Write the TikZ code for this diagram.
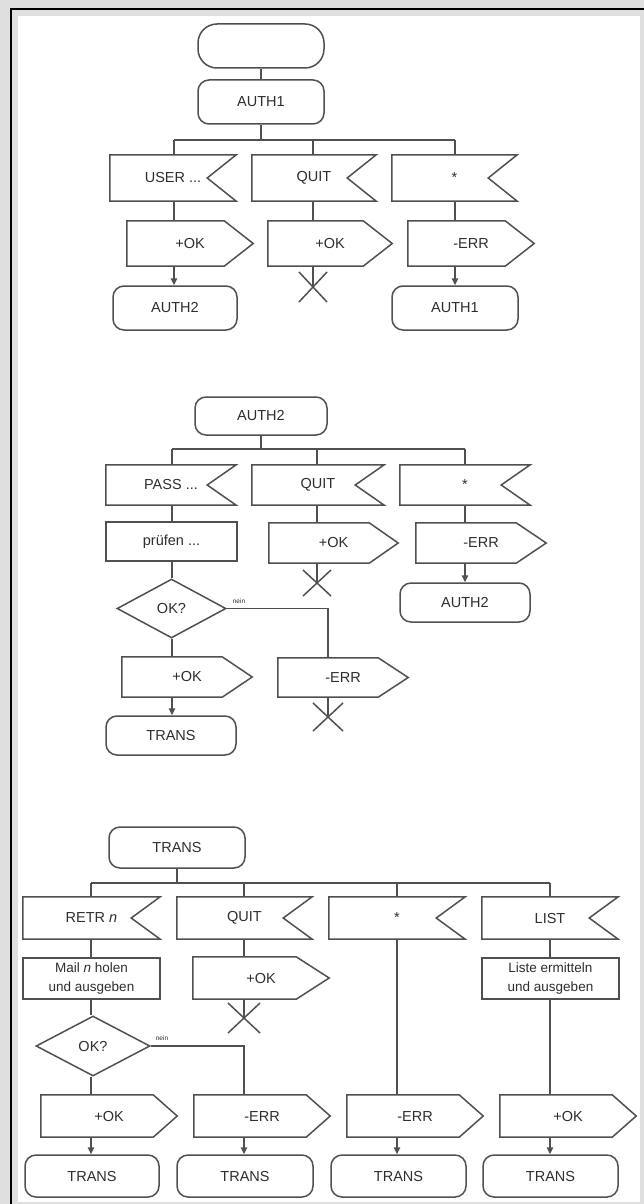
\documentclass[tikz,border=0pt]{standalone}
\usepackage{fontspec}
\setmainfont{Liberation Sans}
\usetikzlibrary{shapes.geometric,arrows.meta}

\definecolor{framegray}{HTML}{DFDFDF}
\definecolor{ink}{HTML}{505050}
\definecolor{txt}{HTML}{2E2E2E}

\tikzset{
  flow/.style={draw=ink, line width=1.5pt},
  tag/.style={font=\fontsize{14.5}{17}\selectfont, text=txt, inner sep=0pt},
  holder/.style={tag, rectangle, draw=none},
  term/.style={tag, flow, rectangle, rounded corners=11pt},
  pill/.style={tag, flow, rectangle, rounded corners=19pt},
  proc/.style={tag, flow, rectangle, align=center},
  smallproc/.style={proc, font=\fontsize{13.5}{18.5}\selectfont},
  cond/.style={tag, flow, diamond},
  arr/.style={flow, -{Triangle[length=7pt,width=6.5pt]}},
  neinlbl/.style={font=\fontsize{6.5}{7}\selectfont, text=txt, inner sep=0pt},
}

% a node given by its left, right, top and bottom edges
\newcommand\placebox[7]{%
  \pgfmathsetmacro\bw{#4-#3}\pgfmathsetmacro\bh{#6-#5}%
  \pgfmathsetmacro\bx{(#3+#4)/2}\pgfmathsetmacro\by{(#5+#6)/2}%
  \node[#1, minimum width=\bw pt, minimum height=\bh pt] (#2) at (\bx,\by) {#7};}

% input symbol: rectangle with a notch on the right
\newcommand\recvbox[6]{%
  \placebox{holder}{#1}{#2}{#3}{#4}{#5}{#6}%
  \draw[flow] (#1.north west) -- (#1.north east) -- ([xshift=-29pt]#1.east)
    -- (#1.south east) -- (#1.south west) -- cycle;}

% output symbol: rectangle with a point on the right (#7 = point depth)
\newcommand\sendbox[7]{%
  \placebox{holder}{#1}{#2}{#3}{#4}{#5}{#6}%
  \draw[flow] (#1.north west) -- ([xshift=-#7pt]#1.north east) -- (#1.east)
    -- ([xshift=-#7pt]#1.south east) -- (#1.south west) -- cycle;}

% stop cross
\newcommand\stopcross[5]{%
  \coordinate (#1) at (#2,#3);
  \draw[flow] ([shift={(-#4,-#5)}]#1) -- ([shift={(#4,#5)}]#1)
              ([shift={(-#4,#5)}]#1) -- ([shift={(#4,-#5)}]#1);}

\begin{document}
\begin{tikzpicture}[x=1pt, y=-1pt]
\useasboundingbox (0,0) rectangle (644,1204);
\fill[framegray] (0,0) rectangle (644,1204);
\fill[white] (18,16) rectangle (640,1202);
\draw[black, line width=2pt] (11,1204) -- (11,9) -- (644,9);

% ---------------- state AUTH1 ----------------
\placebox{pill}{s0}{198}{324}{24}{68}{}
\placebox{term}{a1}{198}{324}{80}{124}{AUTH1}
\recvbox{e11}{110}{236}{155}{201}{USER ...}
\recvbox{e12}{252}{376}{155}{201}{QUIT}
\recvbox{e13}{392}{517}{155}{201}{*}
\sendbox{o11}{127}{253}{221}{266}{+OK}{29}
\sendbox{o12}{268}{392}{221}{266}{+OK}{29}
\sendbox{o13}{408}{534}{221}{266}{-ERR}{29}
\placebox{term}{t11}{113}{237}{286}{330}{AUTH2}
\placebox{term}{t13}{392}{518}{286}{330}{AUTH1}
\stopcross{x12}{313}{287}{14}{15}

\coordinate (k11) at (174,140);
\coordinate (k12) at (313,140);
\coordinate (k13) at (455,140);
\draw[flow] (s0.south) -- (a1.north);
\draw[flow] (a1.south) -- (a1.south |- k11);
\draw[flow] (k11) -- (k13);
\draw[flow] (k11) -- (k11 |- e11.north);
\draw[flow] (k12) -- (k12 |- e12.north);
\draw[flow] (k13) -- (k13 |- e13.north);
\draw[flow] (k11 |- e11.south) -- (k11 |- o11.north);
\draw[flow] (k12 |- e12.south) -- (k12 |- o12.north);
\draw[flow] (k13 |- e13.south) -- (k13 |- o13.north);
\draw[arr] (k11 |- o11.south) -- (k11 |- t11.north);
\draw[flow] (k12 |- o12.south) -- (x12);
\draw[arr] (k13 |- o13.south) -- (k13 |- t13.north);

% ---------------- state AUTH2 ----------------
\placebox{term}{a2}{195}{327}{397}{435}{AUTH2}
\recvbox{e21}{106}{236}{465}{505}{PASS ...}
\recvbox{e22}{252}{384}{465}{505}{QUIT}
\recvbox{e23}{400}{530}{465}{505}{*}
\placebox{proc}{p21}{106}{237}{522}{561}{prüfen ...}
\sendbox{o22}{269}{398}{523}{563}{+OK}{29}
\sendbox{o23}{416}{546}{523}{563}{-ERR}{30}
\stopcross{x22}{317}{583}{14}{13}
\placebox{term}{t23}{400}{530}{583}{622}{AUTH2}
\placebox{cond}{d21}{117}{226}{579}{638}{OK?}
\node[neinlbl] (n21) at (239,601) {nein};
\sendbox{o21}{122}{252}{657}{697}{+OK}{30}
\sendbox{o24}{278}{408}{658}{697}{-ERR}{30}
\placebox{term}{t21}{106}{236}{716}{755}{TRANS}
\stopcross{x24}{328}{717}{15}{14}

\coordinate (k21) at (172,449);
\coordinate (k22) at (317,449);
\coordinate (k23) at (465,449);
\coordinate (k24) at (328,608);
\draw[flow] (a2.south) -- (a2.south |- k21);
\draw[flow] (k21) -- (k23);
\draw[flow] (k21) -- (k21 |- e21.north);
\draw[flow] (k22) -- (k22 |- e22.north);
\draw[flow] (k23) -- (k23 |- e23.north);
\draw[flow] (k21 |- e21.south) -- (k21 |- p21.north);
\draw[flow] (k21 |- p21.south) -- (k21 |- d21.north);
\draw[flow] (k21 |- d21.south) -- (k21 |- o21.north);
\draw[arr] (k21 |- o21.south) -- (k21 |- t21.north);
\draw[flow] (k22 |- e22.south) -- (k22 |- o22.north);
\draw[flow] (k22 |- o22.south) -- (x22);
\draw[flow] (k23 |- e23.south) -- (k23 |- o23.north);
\draw[arr] (k23 |- o23.south) -- (k23 |- t23.north);
\draw[flow] (d21.east) -- (d21.east -| k24) -- (k24 |- o24.north);
\draw[flow] (k24 |- o24.south) -- (x24);

% ---------------- state TRANS ----------------
\placebox{term}{a3}{109}{245}{827}{868}{TRANS}
\recvbox{e31}{23}{160}{897}{939}{RETR \textit{n}}
\recvbox{e32}{177}{312}{897}{939}{QUIT}
\recvbox{e33}{329}{465}{897}{939}{*}
\recvbox{e34}{482}{618}{897}{939}{LIST}
\placebox{smallproc}{p31}{23}{160}{958}{999}{Mail \textit{n} holen\\und ausgeben}
\placebox{smallproc}{p34}{482}{619}{958}{999}{Liste ermitteln\\und ausgeben}
\sendbox{o32}{193}{329}{957}{999}{+OK}{33}
\stopcross{x32}{244}{1018}{16}{15}
\placebox{cond}{d31}{36}{150}{1016}{1076}{OK?}
\node[neinlbl] (n31) at (162,1038) {nein};
\sendbox{o31}{41}{177}{1095}{1137}{+OK}{24}
\sendbox{o35}{194}{330}{1095}{1137}{-ERR}{24}
\sendbox{o33}{347}{483}{1095}{1137}{-ERR}{24}
\sendbox{o34}{500}{636}{1095}{1137}{+OK}{24}
\placebox{term}{t31}{25}{159}{1155}{1197}{TRANS}
\placebox{term}{t35}{177}{313}{1155}{1197}{TRANS}
\placebox{term}{t33}{331}{466}{1155}{1197}{TRANS}
\placebox{term}{t34}{483}{618}{1155}{1197}{TRANS}

\coordinate (k31) at (91,883);
\coordinate (k32) at (244,883);
\coordinate (k33) at (397,883);
\coordinate (k34) at (550,883);
\coordinate (k35) at (244,1046);
\draw[flow] (a3.south) -- (a3.south |- k31);
\draw[flow] (k31) -- (k34);
\draw[flow] (k31) -- (k31 |- e31.north);
\draw[flow] (k32) -- (k32 |- e32.north);
\draw[flow] (k33) -- (k33 |- e33.north);
\draw[flow] (k34) -- (k34 |- e34.north);
\draw[flow] (k31 |- e31.south) -- (k31 |- p31.north);
\draw[flow] (k31 |- p31.south) -- (k31 |- d31.north);
\draw[flow] (k31 |- d31.south) -- (k31 |- o31.north);
\draw[arr] (k31 |- o31.south) -- (k31 |- t31.north);
\draw[flow] (k32 |- e32.south) -- (k32 |- o32.north);
\draw[flow] (k32 |- o32.south) -- (x32);
\draw[flow] (d31.east) -- (d31.east -| k35) -- (k35 |- o35.north);
\draw[arr] (k35 |- o35.south) -- (k35 |- t35.north);
\draw[flow] (k33 |- e33.south) -- (k33 |- o33.north);
\draw[arr] (k33 |- o33.south) -- (k33 |- t33.north);
\draw[flow] (k34 |- e34.south) -- (k34 |- p34.north);
\draw[flow] (k34 |- p34.south) -- (k34 |- o34.north);
\draw[arr] (k34 |- o34.south) -- (k34 |- t34.north);
\end{tikzpicture}
\end{document}
